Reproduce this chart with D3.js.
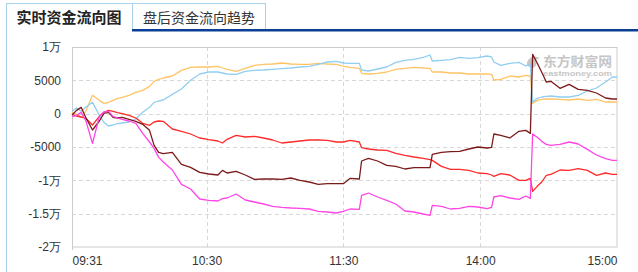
<!DOCTYPE html>
<html><head><meta charset="utf-8">
<script src="https://cdn.jsdelivr.net/npm/d3@7/dist/d3.min.js"></script>
<style>
html,body{margin:0;padding:0;background:#fff;}
svg{display:block;font-family:"Microsoft YaHei","Noto Sans CJK SC","Noto Sans",sans-serif;}
</style></head>
<body>
<svg id="chart" width="638" height="272"></svg>
<script>
// minute index since 09:31 (0..239)
const minutes = [0,2,4,6,9,12,14,16,18,20,22,25,28,31,34,36,38,40,44,48,52,56,60,64,66,68,72,76,80,84,88,92,96,100,104,108,112,116,119,122,126,127,130,134,138,142,146,150,154,157,158,162,166,170,174,178,182,184,185,188,192,196,199,201,202,204,206,208,210,214,218,222,226,230,234,237,239];
const orange = [200,-100,-550,350,2750,2000,1550,1700,2000,2300,2450,2750,3200,3500,4100,4850,5150,5350,5650,6500,6950,7000,7000,7100,6850,6650,6350,6800,7250,7400,7450,7600,7450,7400,7400,7550,7450,7400,7100,6950,6800,6050,5950,6050,6250,6650,6800,6950,6850,6800,6250,6250,6100,6100,5950,5950,5950,5900,5050,5150,5650,5500,5750,5650,1550,2000,2150,2200,2200,2150,2050,2200,2000,2150,1750,1750,1750];
const blue = [350,850,350,950,1700,-250,-1300,-1850,-1700,-1500,-1400,-1250,-800,200,950,1700,1900,2050,2900,3700,5000,5950,6250,6250,6100,5950,5900,6350,6500,6550,6650,6750,6850,7000,7100,7400,7750,7850,7600,7550,7550,6550,6400,6700,7000,7700,8000,8150,8450,8800,7900,8000,8100,8450,8300,8400,8650,8500,7750,7250,7550,7700,7150,7400,1750,2300,2500,2600,2650,2500,2500,2750,3400,3850,4750,5500,5500];
const red = [-100,-350,-500,-700,-1700,-400,200,500,350,150,0,-250,-650,-1450,-1750,-1250,-1100,-1150,-2300,-2650,-3050,-3650,-3900,-4100,-4400,-3850,-3250,-3500,-3400,-3650,-3950,-4400,-4250,-4100,-3950,-3950,-4000,-4250,-4250,-4000,-4250,-5100,-5300,-5450,-5500,-5950,-6250,-6500,-6700,-6900,-7000,-7900,-8350,-8350,-8500,-8900,-9000,-9200,-9400,-9000,-9200,-10000,-10000,-9700,-11650,-10900,-10250,-9250,-9100,-8450,-8500,-8250,-8500,-9250,-8900,-9100,-9100];
const maroon = [-200,500,950,-550,-2450,-1100,50,200,-550,-650,-550,-850,-1150,-1600,-2500,-4750,-5800,-6000,-5800,-7600,-8050,-8800,-9050,-9200,-8500,-8900,-8650,-9200,-9850,-9800,-9800,-9850,-9650,-10000,-10250,-10600,-10500,-10500,-10500,-9700,-9800,-7100,-6700,-7100,-7750,-7900,-8300,-8100,-8100,-8100,-6100,-5800,-5700,-5650,-5300,-5000,-5150,-5050,-3050,-3250,-3650,-2650,-2500,-2950,8900,7600,6200,4750,4850,3800,4400,3650,3500,3100,2350,2200,2200];
const magenta = [-500,-250,200,-1000,-4450,-400,250,350,-400,-650,-850,-1100,-1450,-2950,-4250,-5200,-6550,-7250,-8450,-10600,-11300,-12800,-13000,-13100,-12750,-12650,-12050,-12950,-13250,-13550,-13900,-14050,-14150,-14200,-14300,-14650,-14750,-14900,-14650,-14300,-14350,-12250,-11900,-12500,-13000,-13550,-14600,-14750,-15050,-15250,-13750,-13900,-14300,-14200,-13900,-14000,-14250,-14050,-12500,-12300,-12650,-12850,-12350,-12700,-3050,-3550,-4150,-4600,-4750,-4600,-4250,-4550,-5350,-6200,-6750,-7000,-7000];

const yTicks = [10000,5000,0,-5000,-10000,-15000,-20000];
const yTickLabels = ["1万","5000","0","-5000","-1万","-1.5万","-2万"];
const xTicks = [0,59,119,179,239];
const xTickLabels = ["09:31","10:30","11:30","14:00","15:00"];
const tabLabels = ["实时资金流向图","盘后资金流向趋势"];
const seriesColors = ["#ffc466","#92cef0","#ff2a2a","#7c1a1a","#ff45e6"];

const svg = d3.select("#chart");
const W = 638, H = 272;
const x = d3.scaleLinear().domain([0,239]).range([72,617]);
const y = d3.scaleLinear().domain([-20000,10000]).range([247,47]);

// tabs
const tabLine = "#a9d0ea";
svg.append("line").attr("x1",6.5).attr("x2",6.5).attr("y1",3).attr("y2",H).attr("stroke",tabLine);
svg.append("line").attr("x1",6).attr("x2",265).attr("y1",3.5).attr("y2",3.5).attr("stroke",tabLine);
svg.append("line").attr("x1",132.5).attr("x2",132.5).attr("y1",3).attr("y2",30).attr("stroke",tabLine);
svg.append("line").attr("x1",265.5).attr("x2",265.5).attr("y1",3).attr("y2",30).attr("stroke",tabLine);
svg.append("rect").attr("x",132).attr("y",29).attr("width",W-132).attr("height",2.5).attr("fill","#0b3f95");
svg.append("text").attr("x",16.5).attr("y",22.5).attr("font-size",15).attr("font-weight","bold").attr("fill","#222").text(tabLabels[0]);
svg.append("text").attr("x",143).attr("y",22.5).attr("font-size",14).attr("fill","#333").text(tabLabels[1]);

// grid
const gridC = "#d8d8d8";
svg.append("g").selectAll("line").data(yTicks.slice(1,-1)).join("line")
  .attr("x1",72).attr("x2",617).attr("y1",d=>Math.round(y(d))+0.5).attr("y2",d=>Math.round(y(d))+0.5)
  .attr("stroke",gridC).attr("stroke-dasharray","4,3");
svg.append("g").selectAll("line").data(xTicks.slice(1,-1)).join("line")
  .attr("y1",47).attr("y2",247).attr("x1",d=>Math.round(x(d))+0.5).attr("x2",d=>Math.round(x(d))+0.5)
  .attr("stroke",gridC).attr("stroke-dasharray","4,3");

// frame
const frameC = "#cccccc";
svg.append("rect").attr("x",72.5).attr("y",47.5).attr("width",544.5).attr("height",199.5)
  .attr("fill","none").attr("stroke",frameC);

// watermark
const wm = svg.append("g").attr("fill","#c6c6c6");
wm.append("path").attr("d","M527,66 C526,60 531,56 537,57 L540,58 L535,60 C538,62 537,66 533,68 Z");
wm.append("text").attr("x",543).attr("y",65.5).attr("font-size",13).attr("font-weight","bold")
  .attr("textLength",69).attr("lengthAdjust","spacingAndGlyphs").text("东方财富网");
wm.append("text").attr("x",543).attr("y",75.5).attr("font-size",7.5).attr("font-weight","bold")
  .attr("font-family","Liberation Sans, Arial, sans-serif")
  .attr("textLength",69).attr("lengthAdjust","spacingAndGlyphs").text("eastmoney.com");

// axes
const yAxis = d3.axisLeft(y).tickValues(yTicks).tickSize(0).tickPadding(11)
  .tickFormat((d,i)=>yTickLabels[i]);
const gy = svg.append("g").attr("transform","translate(72,0)").call(yAxis);
gy.select(".domain").remove();
gy.selectAll("text").attr("font-size",12).attr("fill","#333").attr("font-family",null);

const xAxis = d3.axisBottom(x).tickValues(xTicks).tickSize(0).tickPadding(9)
  .tickFormat((d,i)=>xTickLabels[i]);
const gx = svg.append("g").attr("transform","translate(0,247)").call(xAxis);
gx.select(".domain").remove();
gx.selectAll("text").attr("font-size",12).attr("fill","#333").attr("font-family",null)
  .attr("text-anchor",(d,i)=> i===0?"start":(i===xTicks.length-1?"end":"middle"));
svg.append("line").attr("x1",72.5).attr("x2",72.5).attr("y1",247).attr("y2",250).attr("stroke",frameC);

// lines
const seriesList = [orange, blue, red, maroon, magenta];
const lineGen = d3.line().x((d,i)=>x(minutes[i])).y(d=>y(d));
svg.append("g").selectAll("path").data(seriesList).join("path")
  .attr("d",d=>lineGen(d)).attr("fill","none")
  .attr("stroke",(d,i)=>seriesColors[i]).attr("stroke-width",1.3)
  .attr("stroke-linejoin","round");
</script>
</body></html>
